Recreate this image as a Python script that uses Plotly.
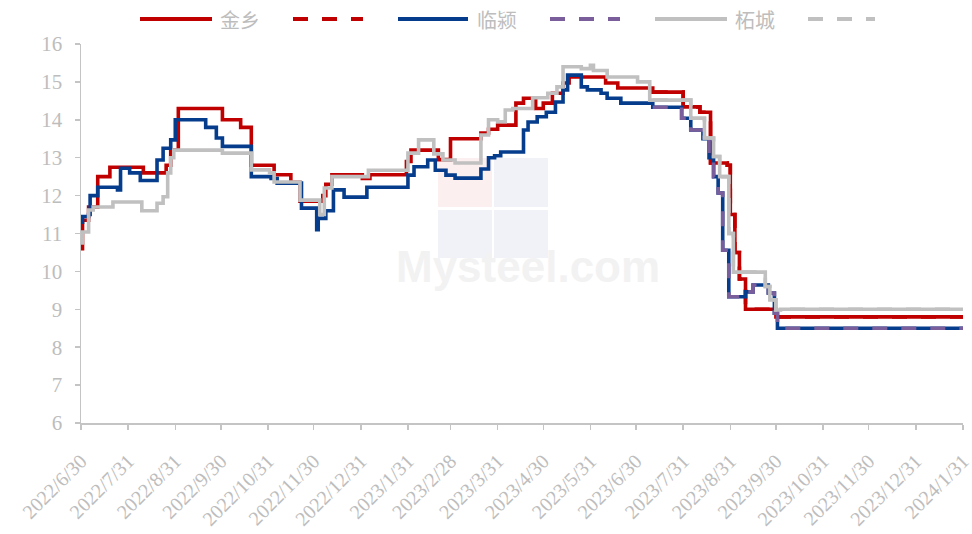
import plotly.graph_objects as go

# ---------------- data ----------------
tick_dates = ["2022-06-30", "2022-07-31", "2022-08-31", "2022-09-30", "2022-10-31", "2022-11-30",
              "2022-12-31", "2023-01-31", "2023-02-28", "2023-03-31", "2023-04-30", "2023-05-31",
              "2023-06-30", "2023-07-31", "2023-08-31", "2023-09-30", "2023-10-31", "2023-11-30",
              "2023-12-31", "2024-01-31"]
tick_labels = ["2022/6/30", "2022/7/31", "2022/8/31", "2022/9/30", "2022/10/31", "2022/11/30",
               "2022/12/31", "2023/1/31", "2023/2/28", "2023/3/31", "2023/4/30", "2023/5/31",
               "2023/6/30", "2023/7/31", "2023/8/31", "2023/9/30", "2023/10/31", "2023/11/30",
               "2023/12/31", "2024/1/31"]

series_names = ["金乡", "临颍", "柘城"]

jinxiang_dates = ["2022-06-30", "2022-07-01", "2022-07-05", "2022-07-11", "2022-07-19", "2022-08-10",
                  "2022-08-25", "2022-08-28", "2022-09-02", "2022-10-01", "2022-10-13", "2022-10-20",
                  "2022-11-04", "2022-11-15", "2022-11-21", "2022-12-06", "2022-12-08", "2022-12-12",
                  "2023-01-01", "2023-01-06", "2023-01-30", "2023-02-02", "2023-02-20", "2023-02-28",
                  "2023-03-20", "2023-03-25", "2023-03-31", "2023-04-12", "2023-04-17", "2023-04-25",
                  "2023-04-30", "2023-05-06", "2023-05-13", "2023-05-17", "2023-06-10", "2023-06-18",
                  "2023-07-11", "2023-07-31", "2023-08-11", "2023-08-18", "2023-08-29", "2023-08-31",
                  "2023-09-03", "2023-09-06", "2023-09-10", "2023-09-30", "2024-01-31"]
jinxiang_values = [10.6, 11.35, 11.7, 12.5, 12.75, 12.6, 12.8, 13.2, 14.3, 14.0, 13.8, 12.8,
                   12.55, 12.35, 11.85, 12.0, 12.3, 12.55, 12.45, 12.55, 12.9, 13.2, 12.95, 13.5,
                   13.65, 13.75, 13.86, 14.44, 14.57, 14.3, 14.44, 14.7, 14.97, 15.13, 14.97, 14.84,
                   14.73, 14.34, 14.2, 12.86, 12.8, 11.5, 10.5, 9.8, 9.0, 8.8, 8.8]

linying_dates = ["2022-06-30", "2022-07-01", "2022-07-05", "2022-07-06", "2022-07-11", "2022-07-24",
                 "2022-07-26", "2022-08-01", "2022-08-08", "2022-08-19", "2022-08-23", "2022-08-28",
                 "2022-08-31", "2022-09-20", "2022-09-27", "2022-10-01", "2022-10-20", "2022-11-02",
                 "2022-11-06", "2022-11-22", "2022-12-02", "2022-12-03", "2022-12-08", "2022-12-13",
                 "2022-12-20", "2023-01-04", "2023-01-31", "2023-02-04", "2023-02-13", "2023-02-18",
                 "2023-02-25", "2023-03-03", "2023-03-20", "2023-03-25", "2023-03-29", "2023-04-02",
                 "2023-04-17", "2023-04-20", "2023-04-26", "2023-05-02", "2023-05-08", "2023-05-13",
                 "2023-05-16", "2023-05-25", "2023-05-29", "2023-06-07", "2023-06-11", "2023-06-20",
                 "2023-07-11", "2023-07-30", "2023-08-05", "2023-08-13", "2023-08-17", "2023-08-20",
                 "2023-08-23", "2023-08-26", "2023-08-30", "2023-09-10", "2023-09-15", "2023-09-25",
                 "2023-09-29", "2023-10-01", "2024-01-31"]
linying_values = [11.3, 11.45, 11.5, 12.0, 12.22, 12.15, 12.72, 12.6, 12.4, 12.94, 13.25, 13.47,
                  14.0, 13.8, 13.52, 13.3, 12.5, 12.45, 12.33, 11.67, 11.1, 11.4, 11.6, 12.15,
                  11.96, 12.22, 12.54, 12.76, 12.94, 12.67, 12.54, 12.46, 12.7, 13.0, 13.05, 13.15,
                  13.73, 13.94, 14.08, 14.2, 14.47, 14.79, 15.18, 14.87, 14.79, 14.7, 14.57, 14.44,
                  14.33, 14.04, 13.73, 13.5, 13.0, 12.5, 12.07, 10.56, 9.33, 9.46, 9.64, 9.43,
                  8.9, 8.5, 8.5]

zhecheng_dates = ["2022-06-30", "2022-07-01", "2022-07-05", "2022-07-08", "2022-07-21", "2022-08-09",
                  "2022-08-19", "2022-08-23", "2022-08-26", "2022-08-28", "2022-08-30", "2022-10-01",
                  "2022-10-20", "2022-11-01", "2022-11-04", "2022-11-21", "2022-12-04", "2022-12-07",
                  "2022-12-12", "2023-01-05", "2023-01-31", "2023-02-07", "2023-02-17", "2023-02-23",
                  "2023-03-03", "2023-03-20", "2023-03-25", "2023-03-31", "2023-04-05", "2023-04-10",
                  "2023-04-23", "2023-05-03", "2023-05-09", "2023-05-13", "2023-05-25", "2023-05-31",
                  "2023-06-02", "2023-06-11", "2023-07-01", "2023-07-09", "2023-08-05", "2023-08-14",
                  "2023-08-20", "2023-08-24", "2023-08-30", "2023-09-02", "2023-09-23", "2023-09-26",
                  "2023-09-30", "2023-10-03", "2024-01-31"]
zhecheng_values = [10.75, 11.04, 11.62, 11.7, 11.83, 11.6, 11.8, 11.97, 12.6, 13.0, 13.2, 13.12,
                   12.68, 12.6, 12.36, 11.88, 11.5, 12.2, 12.5, 12.67, 13.12, 13.47, 13.1, 12.94,
                   12.86, 13.6, 14.0, 13.95, 14.26, 14.3, 14.58, 14.7, 14.87, 15.4, 15.35, 15.44,
                   15.3, 15.13, 15.0, 14.52, 14.04, 13.52, 13.03, 12.5, 11.0, 9.98, 9.6, 9.25,
                   8.98, 9.0, 9.0]

forecast_start = "2023-07-11"

# ---------------- style ----------------
solid_colors = ["#C00000", "#053C8C", "#C0C0C0"]
dash_colors = ["#C00000", "#7A5E9C", "#C0C0C0"]
AXIS = "#C4C4C4"
TEXT = "#BDBDBD"
LW = 3.6
DASH = "15px,14px"

W, H = 972, 534
L, R, T, B = 81, 963, 44, 423


def px_x(px):
    return (px - L) / (R - L)


def px_y(py):
    return (B - py) / (B - T)


def forecast(dates, values, start):
    idx = max(i for i, d in enumerate(dates) if d <= start)
    return [start] + dates[idx + 1:], [values[idx]] + values[idx + 1:]


all_dates = [jinxiang_dates, linying_dates, zhecheng_dates]
all_values = [jinxiang_values, linying_values, zhecheng_values]

fig = go.Figure()
for i in range(3):
    d, v = all_dates[i], all_values[i]
    fig.add_trace(go.Scatter(x=d, y=v, mode="lines", name=series_names[i],
                             line=dict(color=solid_colors[i], width=LW, shape="hv"),
                             showlegend=False, hoverinfo="skip"))
    fd, fv = forecast(d, v, forecast_start)
    fig.add_trace(go.Scatter(x=fd, y=fv, mode="lines", name=series_names[i] + "预测",
                             line=dict(color=dash_colors[i], width=LW, shape="hv", dash=DASH),
                             showlegend=False, hoverinfo="skip"))

shapes = []
annotations = []

# faint watermark
for (x0, x1, y0, y1, c) in [(438, 492, 158, 207, "#FCEFEF"), (494, 548, 158, 207, "#F0F2F8"),
                            (438, 492, 210, 258, "#F0F2F8"), (494, 548, 210, 258, "#F0F2F8")]:
    shapes.append(dict(type="rect", xref="paper", yref="paper", layer="below",
                       x0=px_x(x0), x1=px_x(x1), y0=px_y(y1), y1=px_y(y0),
                       line=dict(width=0), fillcolor=c))
annotations.append(dict(text="<b>Mysteel.com</b>", xref="paper", yref="paper",
                        x=px_x(528), y=px_y(266), xanchor="center", yanchor="middle",
                        showarrow=False,
                        font=dict(family="Liberation Sans", size=44, color="#F2F2F2")))

# custom legend (line keys + labels)
legend_y = px_y(19)
legend_items = [
    (140, 212, solid_colors[0], "solid", series_names[0], 218),
    (293, 363, dash_colors[0], DASH, None, None),
    (398, 468, solid_colors[1], "solid", series_names[1], 475),
    (550, 620, dash_colors[1], DASH, None, None),
    (655, 727, solid_colors[2], "solid", series_names[2], 733),
    (808, 875, dash_colors[2], DASH, None, None),
]
for x0, x1, col, dash, label, tx in legend_items:
    shapes.append(dict(type="line", xref="paper", yref="paper",
                       x0=px_x(x0), x1=px_x(x1), y0=legend_y, y1=legend_y,
                       line=dict(color=col, width=4, dash=dash)))
    if label:
        annotations.append(dict(text=label, xref="paper", yref="paper",
                                x=px_x(tx), y=legend_y, xanchor="left", yanchor="middle",
                                showarrow=False,
                                font=dict(family="Noto Sans CJK SC", size=20, color=TEXT)))

fig.update_layout(
    width=W, height=H,
    margin=dict(l=L, r=W - R, t=T, b=H - B, pad=0, autoexpand=False),
    paper_bgcolor="white", plot_bgcolor="white",
    showlegend=False,
    shapes=shapes, annotations=annotations,
    xaxis=dict(type="date", range=[tick_dates[0], tick_dates[-1] + " 00:30"],
               tickmode="array", tickvals=tick_dates, ticktext=tick_labels,
               tickangle=-45, showgrid=False, zeroline=False,
               showline=True, linecolor=AXIS, linewidth=1.5,
               ticks="outside", ticklen=5, tickcolor=AXIS, tickwidth=1.5,
               ticklabelstandoff=12, ticklabeloverflow="allow",
               tickfont=dict(family="Liberation Serif", size=20, color=TEXT)),
    yaxis=dict(range=[6, 16], tickmode="array", tickvals=list(range(6, 17)),
               showgrid=False, zeroline=False,
               showline=True, linecolor=AXIS, linewidth=1.5,
               ticks="outside", ticklen=5, tickcolor=AXIS, tickwidth=1.5,
               ticklabelstandoff=8,
               tickfont=dict(family="Liberation Serif", size=21, color=TEXT)),
)

fig.write_html("out.html", config={"displayModeBar": False, "staticPlot": True},
               post_script="document.body.style.margin='0px';document.body.style.overflow='hidden';")
